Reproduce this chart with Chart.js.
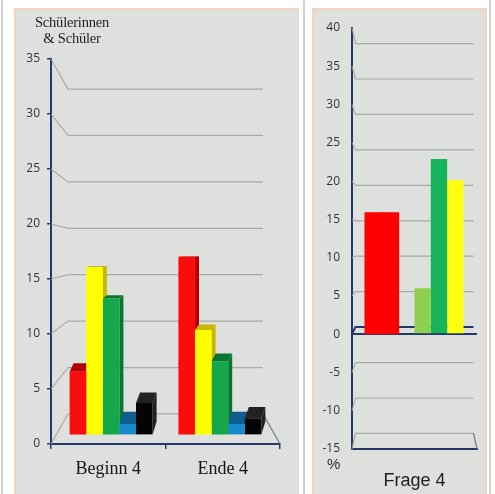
<!DOCTYPE html>
<html>
<head>
<meta charset="utf-8">
<script src="https://cdn.jsdelivr.net/npm/chart.js@4.4.1/dist/chart.umd.min.js"></script>
<style>
  html, body { margin: 0; padding: 0; background: #ffffff; }
  body { width: 495px; height: 494px; position: relative; overflow: hidden; }
  .rule { position: absolute; top: 0; width: 2px; height: 494px; background: #d2d2d2; }
  .panel { position: absolute; top: 8px; height: 486px; background: #dde0dc; }
  #panelLeft { left: 14px; width: 285px; box-shadow: inset 2px 2px 0 #f1d4c0; }
  #panelRight { left: 312px; width: 175px; box-shadow: inset 2px 2px 0 #f1d4c0, inset -2px 0 0 #f1d4c0; }
  .panel canvas { position: absolute; left: 0; top: 0; }
  .note { position: absolute; color: #1e1e1e; white-space: nowrap; }
  #countTitle { left: 22px; top: 14px; width: 100px; text-align: center;
                font: 14.5px/16px "Liberation Serif", serif; letter-spacing: -0.2px; }
  #pctUnit { left: 327px; top: 455px; font: 15px "Liberation Sans", sans-serif; color: #2a2a2a; }
</style>
</head>
<body>
<div class="rule" style="left:1px"></div>
<div class="rule" style="left:303px"></div>
<div class="rule" style="left:489px"></div>

<div class="panel" id="panelLeft"><canvas id="countChart" width="285" height="486"></canvas></div>
<div class="panel" id="panelRight"><canvas id="pctChart" width="175" height="486"></canvas></div>

<div class="note" id="countTitle">Schülerinnen<br>&amp; Schüler</div>
<div class="note" id="pctUnit">%</div>

<script>
// ---- Anzahl Schülerinnen & Schüler ----
const phases  = ['Beginn 4', 'Ende 4'];
const rot     = [6, 17];
const gelb    = [16, 10];
const gruen   = [13, 7];
const blau    = [1, 1];
const schwarz = [3, 1.5];
const countMin = 0, countMax = 35, countStep = 5;

// ---- Prozentwerte Frage 4 ----
const question     = ['Frage 4'];
const pctRot       = [15.8];
const pctRot2      = [15.8];
const pctBlau      = [0];
const pctHellgruen = [6.0];
const pctGruen     = [22.9];
const pctGelb      = [20.1];
const pctMin = -15, pctMax = 40, pctStep = 5;

const NAVY = '#26376b';
const WALL = 'rgba(158,163,158,0.85)';
const TICK_FONT = { family: 'Open Sans', size: 12 };

// Perspective: the back wall is the front plane scaled toward the plot centre.
function toPlane(area, sx, sy, px, py) {
  const cx = (area.left + area.right) / 2, cy = (area.top + area.bottom) / 2;
  return [cx + (px - cx) * sx, cy + (py - cy) * sy];
}
// Value range that a hidden scale needs so that its data lands on a plane
// scaled by s toward the centre of the visible range lo..hi.
function planeRange(lo, hi, s) {
  const c = (lo + hi) / 2, h = (hi - lo) / 2;
  return { min: c - h / s, max: c + h / s };
}
function poly(ctx, pts) {
  ctx.beginPath();
  ctx.moveTo(pts[0][0], pts[0][1]);
  for (let i = 1; i < pts.length; i++) ctx.lineTo(pts[i][0], pts[i][1]);
  ctx.closePath();
  ctx.fill();
}

// Back wall, left wall edges and floor drawn from the visible value axis.
function wallPlugin(sx, sy, zeroColor) {
  return {
    id: 'wall',
    beforeDatasetsDraw(chart) {
      const { ctx, chartArea: a } = chart;
      const y = chart.scales.y;
      ctx.save();
      y.ticks.forEach(t => {
        const fy = y.getPixelForValue(t.value);
        const bl = toPlane(a, sx, sy, a.left, fy);
        const br = toPlane(a, sx, sy, a.right, fy);
        const isZero = zeroColor && t.value === 0;
        ctx.strokeStyle = isZero ? zeroColor : WALL;
        ctx.lineWidth = isZero ? 2 : 1.2;
        ctx.beginPath();
        ctx.moveTo(a.left, fy);
        ctx.lineTo(bl[0], bl[1]);
        ctx.lineTo(br[0], br[1]);
        ctx.stroke();
      });
      // right edge of the floor
      const floorY = y.getPixelForValue(y.min);
      const fr = toPlane(a, sx, sy, a.right, floorY);
      ctx.strokeStyle = 'rgba(110,118,130,0.9)';
      ctx.lineWidth = 1.3;
      ctx.beginPath();
      ctx.moveTo(fr[0], fr[1]);
      ctx.lineTo(a.right, floorY);
      ctx.stroke();
      ctx.restore();
    }
  };
}

// ---------- left chart ----------
const BAR_PLANE = 0.95;      // bars stand a third of the way into the floor
const BACK_X = 0.8515, BACK_Y = 0.844;
const DEPTH_R = 0.93, DEPTH_DX = 4;
const yBar = planeRange(countMin, countMax, BAR_PLANE);
const xBar = planeRange(-0.5, phases.length - 0.5, BAR_PLANE);

const countSeries = [
  { label: 'rot',     data: rot,     color: '#fb0d0d', side: '#b40000' },
  { label: 'gelb',    data: gelb,    color: '#ffff00', side: '#c8b600' },
  { label: 'grün',    data: gruen,   color: '#14a84b', side: '#0b7634' },
  { label: 'blau',    data: blau,    color: '#1689cc', side: '#0d5d8e' },
  { label: 'schwarz', data: schwarz, color: '#040404', side: '#222222' }
];

const barFaces = {
  id: 'barFaces',
  beforeDatasetsDraw(chart) {
    const { ctx, chartArea: a } = chart;
    const cy = (a.top + a.bottom) / 2;
    ctx.save();
    for (let j = 0; j < phases.length; j++) {
      countSeries.forEach((s, i) => {
        const el = chart.getDatasetMeta(i).data[j];
        if (!el) return;
        const x1 = el.x - el.width / 2, x2 = el.x + el.width / 2;
        const top = el.y, base = el.base;
        const tb = cy + (top - cy) * DEPTH_R, bb = cy + (base - cy) * DEPTH_R;
        ctx.fillStyle = s.side;
        poly(ctx, [[x2, top], [x2 + DEPTH_DX, tb], [x2 + DEPTH_DX, bb], [x2, base]]);
        poly(ctx, [[x1, top], [x1 + DEPTH_DX, tb], [x2 + DEPTH_DX, tb], [x2, top]]);
      });
    }
    ctx.restore();
  }
};

new Chart(document.getElementById('countChart'), {
  type: 'bar',
  data: {
    labels: phases,
    datasets: countSeries.map(s => ({
      label: s.label,
      data: s.data.map((v, i) => ({ x: i, y: v })),
      backgroundColor: s.color,
      borderWidth: 0,
      xAxisID: 'xb',
      yAxisID: 'yb',
      categoryPercentage: 0.763,
      barPercentage: 1
    }))
  },
  options: {
    responsive: false,
    animation: false,
    devicePixelRatio: 1,
    layout: { padding: { top: 51, right: 19, bottom: 0, left: 0 } },
    plugins: { legend: { display: false }, tooltip: { enabled: false }, title: { display: false } },
    scales: {
      x: {
        type: 'category',
        offset: true,
        grid: { display: true, drawOnChartArea: false, drawTicks: true, tickLength: 5, color: NAVY, lineWidth: 1.5, offset: true },
        border: { display: true, color: NAVY, width: 2 },
        ticks: { font: { family: 'Liberation Serif', size: 18 }, color: '#141414', padding: 9, maxRotation: 0 },
        afterFit: s => { s.height = 50; }
      },
      y: {
        type: 'linear',
        min: countMin, max: countMax,
        grid: { display: true, drawOnChartArea: false, drawTicks: true, tickLength: 4, color: NAVY, lineWidth: 1.5 },
        border: { display: true, color: NAVY, width: 2 },
        ticks: { stepSize: countStep, font: TICK_FONT, color: '#333333', padding: 7 },
        afterFit: s => { s.width = 37; }
      },
      xb: {
        type: 'linear', display: false, position: 'bottom', offset: false,
        min: xBar.min, max: xBar.max,
        afterBuildTicks: s => { s.ticks = phases.map((p, i) => ({ value: i })); }
      },
      yb: {
        type: 'linear', display: false, position: 'left',
        min: yBar.min, max: yBar.max
      }
    }
  },
  plugins: [wallPlugin(BACK_X, BACK_Y, null), barFaces]
});

// ---------- right chart ----------
// the two red columns are widened by a pixel so they read as one block
const pctSeries = [
  { label: 'rot',      data: pctRot,       color: '#ff0000', inflate: 1 },
  { label: 'rot 2',    data: pctRot2,      color: '#ff0000', inflate: 1 },
  { label: 'blau',     data: pctBlau,      color: '#1689cc', inflate: 'auto' },
  { label: 'hellgrün', data: pctHellgruen, color: '#8dd050', inflate: 'auto' },
  { label: 'grün',     data: pctGruen,     color: '#16b45a', inflate: 'auto' },
  { label: 'gelb',     data: pctGelb,      color: '#ffff10', inflate: 'auto' }
];

new Chart(document.getElementById('pctChart'), {
  type: 'bar',
  data: {
    labels: question,
    datasets: pctSeries.map(s => ({
      label: s.label,
      data: s.data,
      backgroundColor: s.color,
      borderWidth: 0,
      inflateAmount: s.inflate,
      categoryPercentage: 0.784,
      barPercentage: 1
    }))
  },
  options: {
    responsive: false,
    animation: false,
    devicePixelRatio: 1,
    layout: { padding: { top: 20, right: 10, bottom: 0, left: 0 } },
    plugins: { legend: { display: false }, tooltip: { enabled: false }, title: { display: false } },
    scales: {
      x: {
        type: 'category',
        offset: true,
        grid: { display: false },
        border: { display: true, color: NAVY, width: 2 },
        ticks: { font: { family: 'Liberation Sans', size: 18 }, color: '#1e1e1e', padding: 13 },
        afterFit: s => { s.height = 45; }
      },
      y: {
        type: 'linear',
        min: pctMin, max: pctMax,
        grid: {
          display: true, drawOnChartArea: true, drawTicks: false,
          color: c => (c.tick && c.tick.value === 0 ? NAVY : 'rgba(0,0,0,0)'),
          lineWidth: 2
        },
        border: { display: true, color: NAVY, width: 2 },
        ticks: { stepSize: pctStep, font: TICK_FONT, color: '#333333', padding: 12 },
        afterFit: s => { s.width = 40; }
      }
    }
  },
  plugins: [wallPlugin(0.944, 0.926, NAVY)]
});
</script>
</body>
</html>
